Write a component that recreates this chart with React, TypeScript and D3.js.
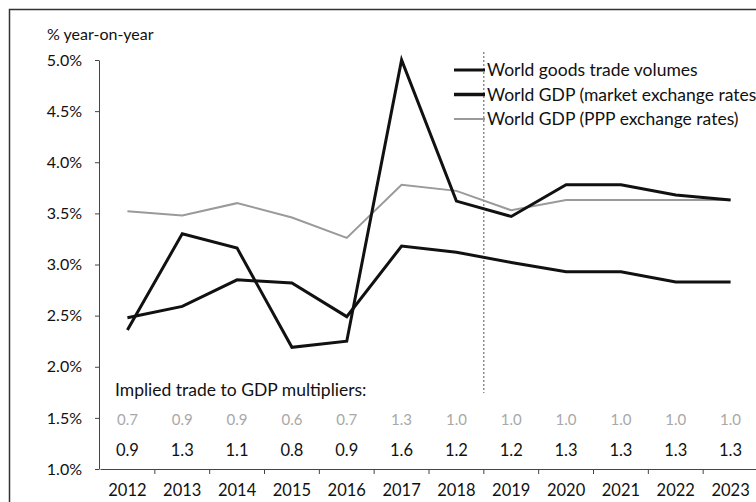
import * as d3 from "d3";
import { useEffect, useRef } from "react";

const years = ["2012", "2013", "2014", "2015", "2016", "2017", "2018", "2019", "2020", "2021", "2022", "2023"];
const tradeVolumes = [2.36, 3.3, 3.16, 2.19, 2.25, 5.0, 3.62, 3.47, 3.78, 3.78, 3.68, 3.63];
const gdpMarket = [2.48, 2.59, 2.85, 2.82, 2.49, 3.18, 3.12, 3.02, 2.93, 2.93, 2.83, 2.83];
const gdpPPP = [3.52, 3.48, 3.6, 3.46, 3.26, 3.78, 3.72, 3.53, 3.63, 3.63, 3.63, 3.63];
const multPPP = ["0.7", "0.9", "0.9", "0.6", "0.7", "1.3", "1.0", "1.0", "1.0", "1.0", "1.0", "1.0"];
const multMarket = ["0.9", "1.3", "1.1", "0.8", "0.9", "1.6", "1.2", "1.2", "1.3", "1.3", "1.3", "1.3"];
const yTicks = [1.0, 1.5, 2.0, 2.5, 3.0, 3.5, 4.0, 4.5, 5.0];
const legendLabels = ["World goods trade volumes", "World GDP (market exchange rates", "World GDP (PPP exchange rates)"];

function Chart() {
  const ref = useRef<SVGSVGElement | null>(null);

  useEffect(() => {
    const width = 756;
    const height = 502;
    const marginLeft = 100;
    const plotRight = 758;
    const yTop = 60;
    const yBottom = 469;
    const font = "Lato, 'Open Sans', sans-serif";

    const svg = d3.select(ref.current);
    svg.selectAll("*").remove();
    svg.attr("width", width).attr("height", height);

    // outer frame
    svg.append("rect")
      .attr("x", 9.5).attr("y", 9.5)
      .attr("width", width).attr("height", height)
      .attr("fill", "#fff").attr("stroke", "#333").attr("stroke-width", 1.5);

    const x = d3.scaleBand().domain(years).range([marginLeft, plotRight]);
    const y = d3.scaleLinear().domain([1, 5]).range([yBottom, yTop]);
    const cx = (d: string) => (x(d) as number) + x.bandwidth() / 2;

    // y axis
    const yAxis = svg.append("g")
      .attr("transform", `translate(${marginLeft - 1},0)`)
      .call(d3.axisLeft(y).tickValues(yTicks).tickSize(4).tickSizeOuter(0).tickFormat(d => d3.format(".1f")(d as number) + "%"));
    yAxis.select(".domain").attr("stroke", "#444");
    yAxis.selectAll(".tick line").attr("stroke", "#444");
    yAxis.selectAll("text").attr("font-family", font).attr("font-size", 16).attr("fill", "#111").attr("dx", -10);

    // x axis
    const xAxis = svg.append("g")
      .attr("transform", `translate(0,${yBottom})`)
      .call(d3.axisBottom(x).tickSize(0).tickPadding(15));
    xAxis.select(".domain").attr("stroke", "#444").attr("stroke-width", 1.2);
    xAxis.selectAll("text").attr("font-family", font).attr("font-size", 16.5).attr("fill", "#111");
    svg.append("g").selectAll("line")
      .data(years.slice(1))
      .join("line")
      .attr("x1", d => x(d) as number).attr("x2", d => x(d) as number)
      .attr("y1", yBottom).attr("y2", yBottom + 5)
      .attr("stroke", "#444");

    svg.append("text")
      .attr("x", 47).attr("y", 40)
      .attr("font-family", font).attr("font-size", 16).attr("fill", "#111")
      .text("% year-on-year");

    // forecast divider
    const divX = x("2019") as number;
    svg.append("line")
      .attr("x1", divX).attr("x2", divX)
      .attr("y1", 52).attr("y2", 393)
      .attr("stroke", "#555").attr("stroke-width", 1).attr("stroke-dasharray", "2,2");

    const line = d3.line<number>()
      .x((_, i) => cx(years[i]))
      .y(d => y(d));

    svg.append("path").datum(gdpPPP)
      .attr("d", line).attr("fill", "none").attr("stroke", "#9a9a9a").attr("stroke-width", 2);
    svg.append("path").datum(gdpMarket)
      .attr("d", line).attr("fill", "none").attr("stroke", "#111").attr("stroke-width", 3);
    svg.append("path").datum(tradeVolumes)
      .attr("d", line).attr("fill", "none").attr("stroke", "#111").attr("stroke-width", 3);

    // legend
    const legendStyles = [
      { stroke: "#111", w: 3 },
      { stroke: "#111", w: 3.5 },
      { stroke: "#9a9a9a", w: 2 },
    ];
    const legend = svg.append("g");
    legendLabels.forEach((label, i) => {
      const ly = 70 + i * 24.5;
      legend.append("line")
        .attr("x1", 454).attr("x2", 485).attr("y1", ly).attr("y2", ly)
        .attr("stroke", legendStyles[i].stroke).attr("stroke-width", legendStyles[i].w);
      legend.append("text")
        .attr("x", 487).attr("y", ly).attr("dy", "0.35em")
        .attr("font-family", font).attr("font-size", 17.5).attr("fill", "#111")
        .text(label);
    });

    // multipliers
    svg.append("text")
      .attr("x", 115).attr("y", 390).attr("dy", "0.35em")
      .attr("font-family", font).attr("font-size", 17.5).attr("fill", "#111")
      .text("Implied trade to GDP multipliers:");

    svg.append("g").selectAll("text")
      .data(multPPP)
      .join("text")
      .attr("x", (_, i) => cx(years[i])).attr("y", 420).attr("dy", "0.35em")
      .attr("text-anchor", "middle")
      .attr("font-family", font).attr("font-size", 15).attr("fill", "#a8a8a8")
      .text(d => d);

    svg.append("g").selectAll("text")
      .data(multMarket)
      .join("text")
      .attr("x", (_, i) => cx(years[i])).attr("y", 450).attr("dy", "0.35em")
      .attr("text-anchor", "middle")
      .attr("font-family", font).attr("font-size", 16.5).attr("fill", "#111")
      .text(d => d);
  }, []);

  return <svg ref={ref} style={{ position: "absolute", left: 0, top: 0, background: "#fff" }} />;
}

export default function App() {
  return <Chart />;
}
